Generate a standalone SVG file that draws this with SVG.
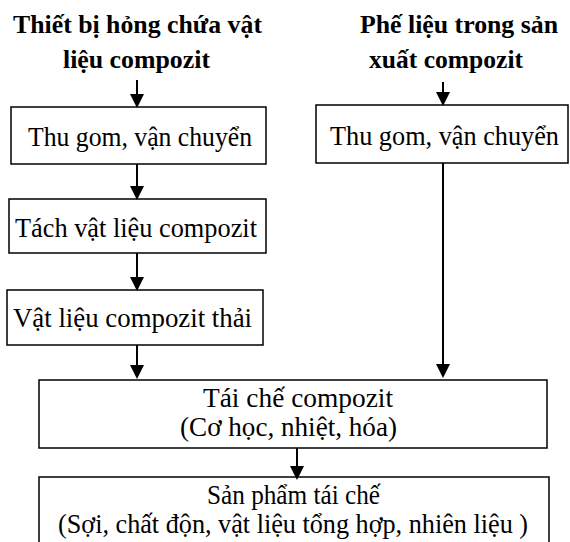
<svg xmlns="http://www.w3.org/2000/svg" width="570" height="542" viewBox="0 0 570 542">
<style>
  .box { fill: #ffffff; stroke: #000000; stroke-width: 1.5; }
  .t { font-family: 'Liberation Serif', 'DejaVu Serif', serif; font-size: 28px; fill: #000000; }
  .s { font-size: 26.5px; }
  .h { font-family: 'Liberation Serif', 'DejaVu Serif', serif; font-size: 26px; font-weight: bold; fill: #000000; }
  .arr { stroke: #000000; stroke-width: 2; fill: none; marker-end: url(#ah); }
</style>
<defs>
  <marker id="ah" viewBox="0 0 14 14" refX="12" refY="7" markerWidth="14" markerHeight="14" markerUnits="userSpaceOnUse" orient="auto">
    <path d="M0,0 L14,7 L0,14 z" fill="#000000"/>
  </marker>
</defs>
<rect width="570" height="542" fill="#ffffff"/>

<g id="src-left">
  <text class="h" x="13" y="33" textLength="249" lengthAdjust="spacingAndGlyphs">Thiết bị hỏng chứa vật</text>
  <text class="h" x="63" y="68" textLength="147" lengthAdjust="spacingAndGlyphs">liệu compozit</text>
</g>
<g id="src-right">
  <text class="h" x="360" y="33" textLength="198" lengthAdjust="spacingAndGlyphs">Phế liệu trong sản</text>
  <text class="h" x="369" y="68" textLength="154" lengthAdjust="spacingAndGlyphs">xuất compozit</text>
</g>

<g id="collect-left">
  <rect class="box" x="11" y="107" width="255" height="57"/>
  <text class="t" x="28" y="146" textLength="224" lengthAdjust="spacingAndGlyphs">Thu gom, vận chuyển</text>
</g>
<g id="separate">
  <rect class="box" x="9" y="199" width="257" height="54"/>
  <text class="t" x="15" y="237" textLength="242" lengthAdjust="spacingAndGlyphs">Tách vật liệu compozit</text>
</g>
<g id="waste">
  <rect class="box" x="7" y="290" width="256" height="55"/>
  <text class="t" x="13" y="327" textLength="239" lengthAdjust="spacingAndGlyphs">Vật liệu compozit thải</text>
</g>
<g id="collect-right">
  <rect class="box" x="316" y="105" width="252" height="58"/>
  <text class="t" x="330" y="145" textLength="229" lengthAdjust="spacingAndGlyphs">Thu gom, vận chuyển</text>
</g>
<g id="recycle">
  <rect class="box" x="39" y="380" width="508" height="68"/>
  <text class="t" x="203" y="407" textLength="190" lengthAdjust="spacingAndGlyphs">Tái chế compozit</text>
  <text class="t" x="180" y="436" textLength="217" lengthAdjust="spacingAndGlyphs">(Cơ học, nhiệt, hóa)</text>
</g>
<g id="product">
  <rect class="box" x="39" y="477" width="510" height="80"/>
  <text class="t s" x="207" y="504" textLength="173" lengthAdjust="spacingAndGlyphs">Sản phẩm tái chế</text>
  <text class="t s" x="58" y="533" textLength="470" lengthAdjust="spacingAndGlyphs">(Sợi, chất độn, vật liệu tổng hợp, nhiên liệu )</text>
</g>

<g id="connectors">
  <line class="arr" x1="137" y1="80" x2="137" y2="106"/>
  <line class="arr" x1="137" y1="164" x2="137" y2="198"/>
  <line class="arr" x1="137" y1="253" x2="137" y2="289"/>
  <line class="arr" x1="137" y1="345" x2="137" y2="377"/>
  <line class="arr" x1="443" y1="82" x2="443" y2="104"/>
  <line class="arr" x1="443" y1="163" x2="443" y2="376"/>
  <line class="arr" x1="297" y1="448" x2="297" y2="478"/>
</g>
</svg>
